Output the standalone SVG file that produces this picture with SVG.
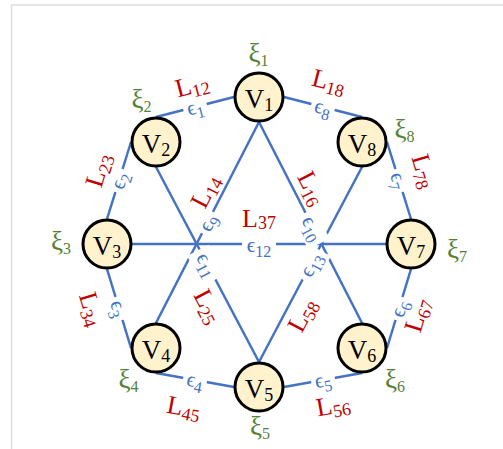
<svg xmlns="http://www.w3.org/2000/svg" width="503" height="449" viewBox="0 0 503 449">
<style>
text{font-family:"Liberation Serif","DejaVu Serif",serif;text-anchor:middle}
.frame{stroke:#DDDDDD;stroke-width:1.5;fill:none}
.edge{stroke:#4472C4;stroke-width:2.5;fill:none}
.node circle{fill:#FFF2CC;stroke:#000;stroke-width:3}
.v{font-size:27px;fill:#000}
.vs{font-size:18px}
.L{font-size:26px;fill:#C00000}
.Ls{font-size:18px}
.e{font-size:21px;fill:#4472C4}
.es{font-size:16px}
.x{font-size:27px;fill:#548235}
.xs{font-size:16px}
.bg{fill:#fff}
</style>
<path class="frame" d="M11.5,449 V5 H503"/>
<g id="connectors">
  <g id="edge-lines">
    <line class="edge" x1="156" y1="117" x2="234" y2="97"/>
    <line class="edge" x1="284" y1="97" x2="362" y2="117"/>
    <line class="edge" x1="387" y1="142" x2="411" y2="219"/>
    <line class="edge" x1="411" y1="269" x2="387" y2="348"/>
    <line class="edge" x1="362" y1="373" x2="284" y2="387"/>
    <line class="edge" x1="234" y1="387" x2="156" y2="373"/>
    <line class="edge" x1="131" y1="348" x2="107" y2="269"/>
    <line class="edge" x1="107" y1="219" x2="131" y2="142"/>
    <line class="edge" x1="259" y1="122" x2="156" y2="323"/>
    <line class="edge" x1="259" y1="122" x2="362" y2="323"/>
    <line class="edge" x1="156" y1="167" x2="259" y2="362"/>
    <line class="edge" x1="362" y1="167" x2="259" y2="362"/>
    <line class="edge" x1="132" y1="244" x2="386" y2="244"/>
  </g>
  <g id="edge-eps">
    <g transform="translate(195,107) rotate(-14.4)"><rect class="bg" x="-12" y="-10" width="24" height="24"/><text class="e" y="7">ϵ<tspan class="es" dy="5">1</tspan></text></g>
    <g transform="translate(323,107) rotate(14.4)"><rect class="bg" x="-12" y="-10" width="24" height="24"/><text class="e" y="7">ϵ<tspan class="es" dy="5">8</tspan></text></g>
    <g transform="translate(399,180.5) rotate(72.9)"><rect class="bg" x="-12" y="-10" width="24" height="24"/><text class="e" y="7">ϵ<tspan class="es" dy="5">7</tspan></text></g>
    <g transform="translate(399,308.5) rotate(-72.9)"><rect class="bg" x="-12" y="-10" width="24" height="24"/><text class="e" y="7">ϵ<tspan class="es" dy="5">6</tspan></text></g>
    <g transform="translate(323,380) rotate(-10.2)"><rect class="bg" x="-12" y="-10" width="24" height="24"/><text class="e" y="7">ϵ<tspan class="es" dy="5">5</tspan></text></g>
    <g transform="translate(195,380) rotate(10.3)"><rect class="bg" x="-12" y="-10" width="24" height="24"/><text class="e" y="7">ϵ<tspan class="es" dy="5">4</tspan></text></g>
    <g transform="translate(119,308.5) rotate(73)"><rect class="bg" x="-12" y="-10" width="24" height="24"/><text class="e" y="7">ϵ<tspan class="es" dy="5">3</tspan></text></g>
    <g transform="translate(119,180.5) rotate(-72.6)"><rect class="bg" x="-12" y="-10" width="24" height="24"/><text class="e" y="7">ϵ<tspan class="es" dy="5">2</tspan></text></g>
    <g transform="translate(207.5,222.5) rotate(-62.9)"><rect class="bg" x="-12" y="-10" width="24" height="24"/><text class="e" y="7">ϵ<tspan class="es" dy="5">9</tspan></text></g>
    <g transform="translate(313,228) rotate(62.9)"><rect class="bg" x="-17" y="-10" width="34" height="24"/><text class="e" y="7">ϵ<tspan class="es" dy="5">10</tspan></text></g>
    <g transform="translate(207.5,264.5) rotate(62.2)"><rect class="bg" x="-17" y="-10" width="34" height="24"/><text class="e" y="7">ϵ<tspan class="es" dy="5">11</tspan></text></g>
    <g transform="translate(310.5,264.5) rotate(-62.2)"><rect class="bg" x="-17" y="-10" width="34" height="24"/><text class="e" y="7">ϵ<tspan class="es" dy="5">13</tspan></text></g>
    <g transform="translate(259,244)"><rect class="bg" x="-17" y="-8" width="34" height="22"/><text class="e" y="8">ϵ<tspan class="es" dy="5">12</tspan></text></g>
  </g>
  <g id="edge-L">
    <text class="L" transform="translate(192,85) rotate(-14.4)" y="8.6">L<tspan class="Ls" dy="4">12</tspan></text>
    <text class="L" transform="translate(329,81) rotate(14.4)" y="8.6">L<tspan class="Ls" dy="4">18</tspan></text>
    <text class="L" transform="translate(424.5,171) rotate(73)" y="8.6">L<tspan class="Ls" dy="4">78</tspan></text>
    <text class="L" transform="translate(417,315) rotate(-73)" y="8.6">L<tspan class="Ls" dy="4">67</tspan></text>
    <text class="L" transform="translate(333,405) rotate(-10.2)" y="8.6">L<tspan class="Ls" dy="4">56</tspan></text>
    <text class="L" transform="translate(184,407) rotate(10.3)" y="8.6">L<tspan class="Ls" dy="4">45</tspan></text>
    <text class="L" transform="translate(92,309) rotate(73)" y="8.6">L<tspan class="Ls" dy="4">34</tspan></text>
    <text class="L" transform="translate(98,170) rotate(-73)" y="8.6">L<tspan class="Ls" dy="4">23</tspan></text>
    <text class="L" transform="translate(205,191) rotate(-62.9)" y="8.6">L<tspan class="Ls" dy="4">14</tspan></text>
    <text class="L" transform="translate(312,188) rotate(63)" y="8.6">L<tspan class="Ls" dy="4">16</tspan></text>
    <text class="L" transform="translate(208.5,306) rotate(62.2)" y="8.6">L<tspan class="Ls" dy="4">25</tspan></text>
    <text class="L" transform="translate(302,315) rotate(-62.3)" y="8.6">L<tspan class="Ls" dy="4">58</tspan></text>
    <text class="L" transform="translate(259,218)" y="8.6">L<tspan class="Ls" dy="2">37</tspan></text>
  </g>
</g>
<g id="V1" class="node"><circle cx="259" cy="97" r="24"/><text class="v" x="259" y="108">V<tspan class="vs" dy="3">1</tspan></text><text class="x" x="258.5" y="61.5">ξ<tspan class="xs" dy="4.5">1</tspan></text></g>
<g id="V2" class="node"><circle cx="156" cy="142" r="24"/><text class="v" x="156" y="153">V<tspan class="vs" dy="3">2</tspan></text><text class="x" x="141.5" y="107.5">ξ<tspan class="xs" dy="4.5">2</tspan></text></g>
<g id="V8" class="node"><circle cx="362" cy="142" r="24"/><text class="v" x="362" y="153">V<tspan class="vs" dy="3">8</tspan></text><text class="x" x="404.5" y="137.5">ξ<tspan class="xs" dy="4.5">8</tspan></text></g>
<g id="V3" class="node"><circle cx="107" cy="244" r="24"/><text class="v" x="107" y="255">V<tspan class="vs" dy="3">3</tspan></text><text class="x" x="61" y="249.5">ξ<tspan class="xs" dy="4.5">3</tspan></text></g>
<g id="V7" class="node"><circle cx="411" cy="244" r="24"/><text class="v" x="411" y="255">V<tspan class="vs" dy="3">7</tspan></text><text class="x" x="457" y="257.5">ξ<tspan class="xs" dy="4.5">7</tspan></text></g>
<g id="V4" class="node"><circle cx="156" cy="348" r="24"/><text class="v" x="156" y="359">V<tspan class="vs" dy="3">4</tspan></text><text class="x" x="128.5" y="387.5">ξ<tspan class="xs" dy="4.5">4</tspan></text></g>
<g id="V6" class="node"><circle cx="362" cy="348" r="24"/><text class="v" x="362" y="359">V<tspan class="vs" dy="3">6</tspan></text><text class="x" x="395" y="387.5">ξ<tspan class="xs" dy="4.5">6</tspan></text></g>
<g id="V5" class="node"><circle cx="259" cy="387" r="24"/><text class="v" x="259" y="398">V<tspan class="vs" dy="3">5</tspan></text><text class="x" x="260" y="434.5">ξ<tspan class="xs" dy="4.5">5</tspan></text></g>
</svg>
